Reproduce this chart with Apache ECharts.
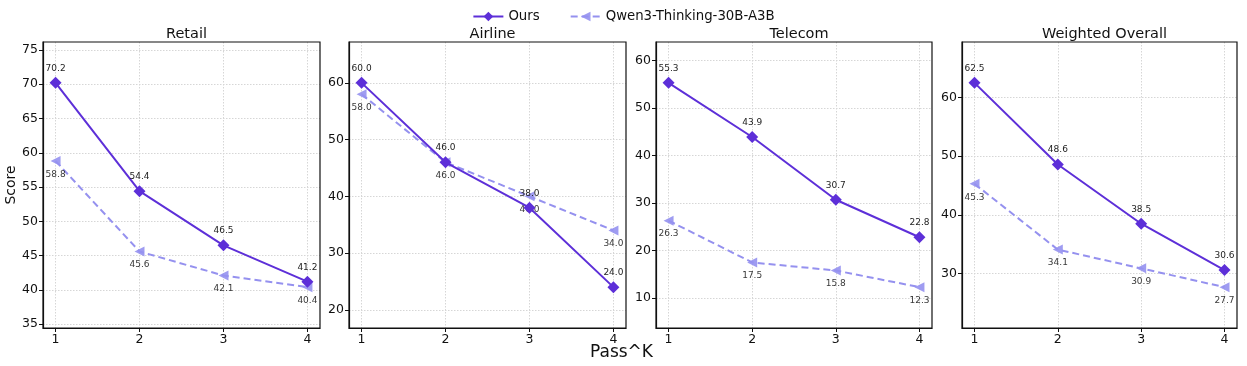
<!DOCTYPE html>
<html>
<head>
<meta charset="utf-8">
<script src="https://cdn.jsdelivr.net/npm/echarts@6/dist/echarts.min.js"></script>
<style>
html,body{margin:0;padding:0;background:#fff;}
#chart{width:1247px;height:366px;}
</style>
</head>
<body>
<div id="chart"></div>
<script>
// ---- data ----
const passK = [1, 2, 3, 4];
const panelTitles = ['Retail', 'Airline', 'Telecom', 'Weighted Overall'];
const seriesNames = ['Ours', 'Qwen3-Thinking-30B-A3B'];
const oursRetail = [70.2, 54.4, 46.5, 41.2];
const qwenRetail = [58.8, 45.6, 42.1, 40.4];
const oursAirline = [60.0, 46.0, 38.0, 24.0];
const qwenAirline = [58.0, 46.0, 40.0, 34.0];
const oursTelecom = [55.3, 43.9, 30.7, 22.8];
const qwenTelecom = [26.3, 17.5, 15.8, 12.3];
const oursWeighted = [62.5, 48.6, 38.5, 30.6];
const qwenWeighted = [45.3, 34.1, 30.9, 27.7];
const xLabel = 'Pass^K';
const yLabel = 'Score';

// ---- layout / style ----
const FONT = 'DejaVu Sans';
const C_OURS = '#5d2fd8';
const C_QWEN = '#9591ef';
const gridsPos = [
  {left: 43, width: 277},
  {left: 349, width: 277},
  {left: 656, width: 276},
  {left: 962, width: 275}
];
const GRID_TOP = 42, GRID_H = 286;
const ySplit = [8, 5, 6, 5];

const oursAll = [oursRetail, oursAirline, oursTelecom, oursWeighted];
const qwenAll = [qwenRetail, qwenAirline, qwenTelecom, qwenWeighted];

const intFmt = v => (Math.abs(v - Math.round(v)) < 1e-6 ? String(Math.round(v)) : '');
const grid = [], xAxis = [], yAxis = [], series = [], title = [];
for (let i = 0; i < 4; i++) {
  const g = gridsPos[i];
  grid.push({left: g.left, width: g.width, top: GRID_TOP, height: GRID_H,
    show: true, borderColor: '#111', borderWidth: 1.2, backgroundColor: 'transparent', z: 5});
  title.push({text: panelTitles[i], left: g.left + g.width / 2, top: 22, textAlign: 'center',
    textStyle: {fontFamily: FONT, fontSize: 14.5, fontWeight: 'normal', color: '#111'}});
  xAxis.push({gridIndex: i, type: 'value', min: 0.85, max: 4.15, splitNumber: 3,
    axisLine: {show: true, lineStyle: {color: '#111', width: 1.2}},
    axisTick: {show: true, length: 4, lineStyle: {color: '#111'}},
    axisLabel: {fontFamily: FONT, fontSize: 12.5, color: '#111', margin: 5,
      showMinLabel: false, showMaxLabel: false, formatter: intFmt},
    splitLine: {show: true, showMinLine: false, showMaxLine: false,
      lineStyle: {color: '#d6d6d6', type: [1.5, 1.5], width: 1}}
  });
  const all = oursAll[i].concat(qwenAll[i]);
  const dmin = Math.min(...all), dmax = Math.max(...all), r = dmax - dmin;
  yAxis.push({gridIndex: i, type: 'value', min: dmin - 0.2 * r, max: dmax + 0.2 * r,
    splitNumber: ySplit[i],
    name: i === 0 ? yLabel : '', nameLocation: 'middle', nameGap: 23,
    nameTextStyle: {fontFamily: FONT, fontSize: 14, color: '#111'},
    axisLine: {show: true, lineStyle: {color: '#111', width: 1.2}},
    axisTick: {show: true, length: 4, lineStyle: {color: '#111'}},
    axisLabel: {fontFamily: FONT, fontSize: 12.5, color: '#111', margin: 5,
      showMinLabel: false, showMaxLabel: false, formatter: intFmt},
    splitLine: {show: true, showMinLine: false, showMaxLine: false,
      lineStyle: {color: '#d6d6d6', type: [1.5, 1.5], width: 1}}
  });
  series.push({
    name: seriesNames[1], type: 'line', xAxisIndex: i, yAxisIndex: i,
    data: passK.map((k, j) => [k, qwenAll[i][j]]),
    symbol: 'triangle', symbolSize: 10, symbolRotate: 90,
    lineStyle: {color: C_QWEN, width: 2, type: [7, 4]},
    itemStyle: {color: C_QWEN, opacity: 0.9},
    label: {show: true, position: 'bottom', distance: 4, fontFamily: FONT, fontSize: 9, color: '#222',
      formatter: p => p.value[1].toFixed(1)},
    z: 2
  });
  series.push({
    name: seriesNames[0], type: 'line', xAxisIndex: i, yAxisIndex: i,
    data: passK.map((k, j) => [k, oursAll[i][j]]),
    symbol: 'diamond', symbolSize: 12,
    lineStyle: {color: C_OURS, width: 2},
    itemStyle: {color: C_OURS},
    label: {show: true, position: 'top', distance: 4, fontFamily: FONT, fontSize: 9, color: '#222',
      formatter: p => p.value[1].toFixed(1)},
    z: 3
  });
}

const option = {
  animation: false,
  backgroundColor: '#fff',
  title: title,
  legend: {
    top: 5, left: 'center',
    data: [
      {name: seriesNames[0]},
      {name: seriesNames[1]}
    ],
    itemWidth: 30, itemHeight: 12, itemGap: 30,
    textStyle: {fontFamily: FONT, fontSize: 13.3, color: '#111'}
  },
  graphic: [{
    type: 'text', left: 590, top: 344,
    style: {text: xLabel, fontFamily: FONT, fontSize: 17, fill: '#111'}
  }],
  grid, xAxis, yAxis, series
};
const chart = echarts.init(document.getElementById('chart'), null, {renderer: 'canvas'});
chart.setOption(option);
</script>
</body>
</html>
